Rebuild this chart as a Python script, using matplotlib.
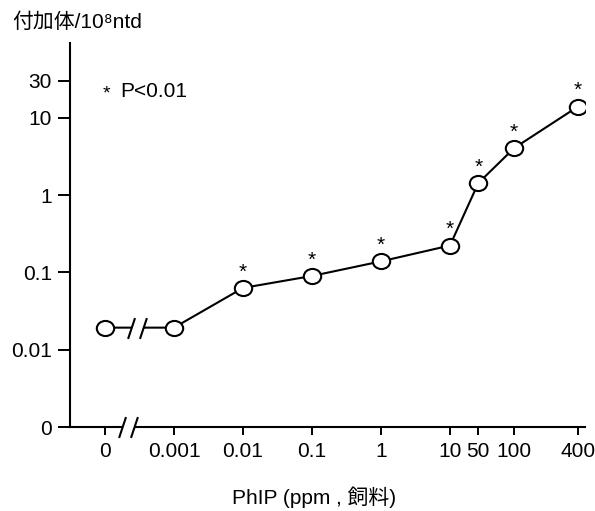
import numpy as np
import matplotlib
matplotlib.use('Agg')
import matplotlib.pyplot as plt
from matplotlib.path import Path
from matplotlib.transforms import Affine2D

plt.rcParams['font.family'] = ['Liberation Sans', 'Noto Sans CJK JP', 'DejaVu Sans']

# PhIP dose (ppm in diet) -> DNA adducts per 10^8 ntd
dose_labels = ['0', '0.001', '0.01', '0.1', '1', '10', '50', '100', '400']
dose_pos = [-4, -3, -2, -1, 0, 1, 1.41, 1.93, 2.85]  # axis is only roughly log
adducts = [0.0193, 0.0193, 0.063, 0.09, 0.139, 0.223, 1.43, 4.06, 13.9]
significant = [False, False, True, True, True, True, True, True, True]
y_ticks = [0.001, 0.01, 0.1, 1, 10, 30]
y_labels = ['0', '0.01', '0.1', '1', '10', '30']

ellipse = Path.unit_circle().transformed(Affine2D().scale(1.0, 0.87))
gap = Path([(-9.5, -10.5), (2.5, -10.5), (9.5, 10.5), (-2.5, 10.5), (-9.5, -10.5)],
           [Path.MOVETO, Path.LINETO, Path.LINETO, Path.LINETO, Path.CLOSEPOLY])
slashes = Path([(-9.5, -10.5), (-2.5, 10.5), (2.5, -10.5), (9.5, 10.5)],
               [Path.MOVETO, Path.LINETO, Path.MOVETO, Path.LINETO])


def draw_break(ax, x, y, clip=True):
    ax.plot([x], [y], marker=gap, markersize=15, markerfacecolor='white',
            markeredgewidth=0, linestyle='none', zorder=5, clip_on=clip)
    ax.plot([x], [y], marker=slashes, markersize=15, markerfacecolor='none',
            markeredgecolor='black', markeredgewidth=1.5, linestyle='none',
            zorder=6, clip_on=clip)


fig = plt.figure(figsize=(5.95, 5.11), dpi=100)
ax = fig.add_axes([70 / 595, 84 / 511, 515 / 595, 384 / 511])

ax.plot(dose_pos, adducts, color='black', linewidth=1.5, zorder=3)
ax.plot(dose_pos, adducts, linestyle='none', marker=ellipse, markersize=12.5,
        markerfacecolor='white', markeredgecolor='black', markeredgewidth=1.5,
        zorder=7)

for x, y, s in zip(dose_pos, adducts, significant):
    if s:
        ax.annotate('*', (x, y), xytext=(0, 11.5), textcoords='offset points',
                    ha='center', va='center', fontsize=15)

ax.set_yscale('log')
ax.set_ylim(0.001, 93)
ax.set_xlim(-4.507, 2.957)
ax.set_yticks(y_ticks)
ax.set_yticklabels(y_labels)
ax.yaxis.set_minor_locator(matplotlib.ticker.NullLocator())
ax.set_xticks(dose_pos)
ax.set_xticklabels(dose_labels)

ax.spines['top'].set_visible(False)
ax.spines['right'].set_visible(False)
ax.spines['left'].set_linewidth(1.5)
ax.spines['bottom'].set_linewidth(1.5)
ax.tick_params(axis='y', length=9, width=1.4, pad=4, labelsize=15)
ax.tick_params(axis='x', length=6, width=1.4, pad=5, labelsize=15)

# axis break and line break between 0 and 0.001
draw_break(ax, dose_pos[0] + 0.33 * (dose_pos[1] - dose_pos[0]), 0.001, clip=False)
draw_break(ax, dose_pos[0] + 0.47 * (dose_pos[1] - dose_pos[0]), adducts[0])

fig.text(12 / 595, 1 - 22 / 511, '付加体/10⁸ntd', fontsize=15, va='center')
fig.text(106 / 595, 1 - 94 / 511, '*', fontsize=14, ha='center', va='center')
fig.text(120 / 595, 1 - 91 / 511, 'P<0.01', fontsize=15, va='center')
fig.text(314 / 595, 1 - 497 / 511, 'PhIP (ppm , 飼料)', fontsize=15,
         ha='center', va='center')

fig.savefig('out.png', dpi=100)
